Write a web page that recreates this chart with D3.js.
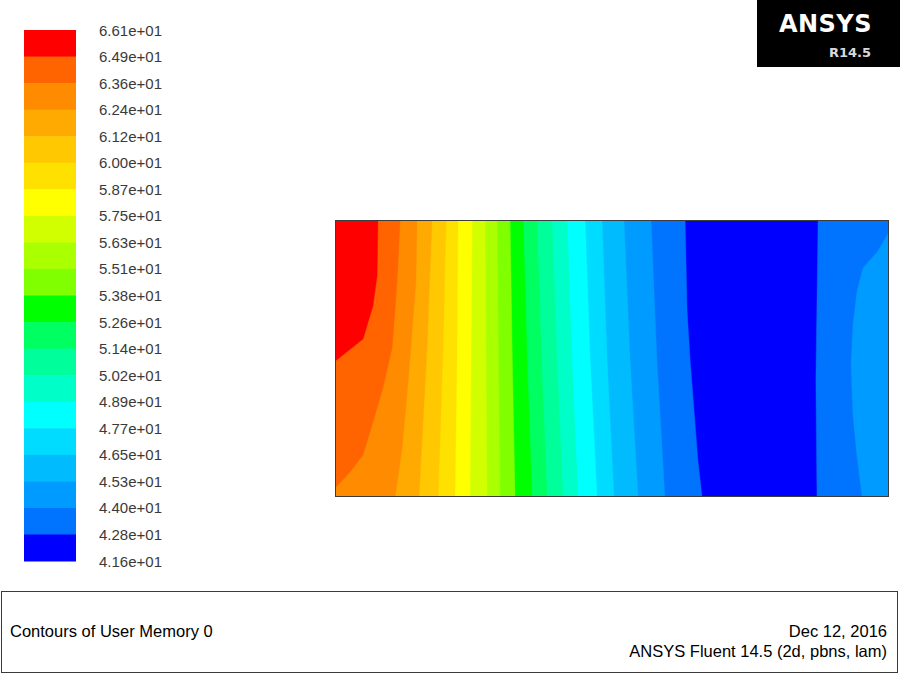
<!DOCTYPE html>
<html>
<head>
<meta charset="utf-8">
<script src="https://cdn.jsdelivr.net/npm/d3@7"></script>
<style>
  html, body { margin: 0; padding: 0; background: #fff; }
  svg { display: block; }
</style>
</head>
<body>
<script>
// ---------- data ----------
const levelLabels = ["6.61e+01","6.49e+01","6.36e+01","6.24e+01","6.12e+01","6.00e+01","5.87e+01",
  "5.75e+01","5.63e+01","5.51e+01","5.38e+01","5.26e+01","5.14e+01","5.02e+01","4.89e+01",
  "4.77e+01","4.65e+01","4.53e+01","4.40e+01","4.28e+01","4.16e+01"];
const levels = [66.1,64.9,63.6,62.4,61.2,60.0,58.7,57.5,56.3,55.1,53.8,52.6,51.4,50.2,48.9,
  47.7,46.5,45.3,44.0,42.8,41.6];
// colour of the band between levels[i] and levels[i+1]
const bandColors = ["#ff0000","#ff6400","#ff8c00","#ffaa00","#ffc800","#ffe100","#ffff00",
  "#d2ff00","#aaff00","#80ff00","#00ff00","#00ff60","#00ff9a","#00ffc8","#00ffff",
  "#00dcff","#00bcff","#009bff","#0073ff","#0000ff"];

// isolines of the field in domain units (x: 0..2, y: 0..1)
const isolines = [
  { level: 42.8, side: "left",  pts: [[1.264,1],[1.271,0.675],[1.282,0.495],[1.296,0.314],[1.310,0.134],[1.325,0]] },
  { level: 42.8, side: "right", pts: [[1.744,1],[1.740,0.711],[1.736,0.422],[1.740,0]] },
  { level: 44.0, side: "left",  pts: [[1.141,1],[1.162,0.5],[1.191,0]] },
  { level: 44.0, side: "right", pts: [[2.0,0.957],[1.957,0.884],[1.906,0.827],[1.884,0.740],[1.870,0.621],[1.863,0.477],[1.870,0.296],[1.884,0.152],[1.903,0]] },
  { level: 45.3, side: "left",  pts: [[1.043,1],[1.065,0.5],[1.094,0]] },
  { level: 46.5, side: "left",  pts: [[0.964,1],[0.982,0.5],[1.007,0]] },
  { level: 47.7, side: "left",  pts: [[0.903,1],[0.921,0.5],[0.946,0]] },
  { level: 48.9, side: "left",  pts: [[0.838,1],[0.855,0.5],[0.877,0]] },
  { level: 50.2, side: "left",  pts: [[0.783,1],[0.801,0.5],[0.823,0]] },
  { level: 51.4, side: "left",  pts: [[0.729,1],[0.745,0.5],[0.765,0]] },
  { level: 52.6, side: "left",  pts: [[0.679,1],[0.693,0.5],[0.711,0]] },
  { level: 53.8, side: "left",  pts: [[0.632,1],[0.640,0.5],[0.650,0]] },
  { level: 55.1, side: "left",  pts: [[0.585,1],[0.590,0.5],[0.596,0]] },
  { level: 56.3, side: "left",  pts: [[0.542,1],[0.545,0.5],[0.549,0]] },
  { level: 57.5, side: "left",  pts: [[0.495,1],[0.491,0.5],[0.487,0]] },
  { level: 58.7, side: "left",  pts: [[0.444,1],[0.440,0.5],[0.433,0]] },
  { level: 60.0, side: "left",  pts: [[0.401,1],[0.390,0.538],[0.372,0]] },
  { level: 61.2, side: "left",  pts: [[0.350,1],[0.332,0.538],[0.303,0]] },
  { level: 62.4, side: "left",  pts: [[0.296,1],[0.292,0.776],[0.264,0.415],[0.242,0.177],[0.217,0]] },
  { level: 63.6, side: "left",  pts: [[0.235,1],[0.224,0.776],[0.206,0.538],[0.173,0.394],[0.137,0.271],[0.101,0.152],[0.054,0.090],[0,0.032]] },
  { level: 64.9, side: "left",  pts: [[0.155,1],[0.152,0.80],[0.137,0.69],[0.101,0.57],[0,0.49]] }
];

const titleText = "Contours of User Memory 0";
const dateText = "Dec 12, 2016";
const versionText = "ANSYS Fluent 14.5 (2d, pbns, lam)";

// ---------- drawing ----------
const W = 900, H = 675;
const svg = d3.select("body").append("svg").attr("width", W).attr("height", H);
svg.append("rect").attr("width", W).attr("height", H).attr("fill", "#fff");

const font = "'Liberation Sans', Arial, Helvetica, sans-serif";

// legend
const ly = d3.scalePoint().domain(levelLabels).range([30, 561]);
const legend = svg.append("g");
legend.selectAll("rect.band").data(bandColors).join("rect")
  .attr("class", "band")
  .attr("x", 24).attr("width", 52)
  .attr("y", (d, i) => ly(levelLabels[i]))
  .attr("height", (d, i) => ly(levelLabels[i + 1]) - ly(levelLabels[i]) + 0.5)
  .attr("fill", d => d);
legend.selectAll("text").data(levelLabels).join("text")
  .attr("x", 99).attr("y", d => ly(d) + 5.5)
  .attr("font-family", font).attr("font-size", 15)
  .attr("fill", "#3a3a3a")
  .text(d => d);

// contour plot
const x = d3.scaleLinear().domain([0, 2]).range([335, 889]);
const y = d3.scaleLinear().domain([0, 1]).range([497, 220]);
const colorOf = d3.scaleOrdinal().domain(levels.slice(0, 20)).range(bandColors);
// band colour above a given level = colour of band whose lower bound is that level
const colorAbove = lv => bandColors[levels.indexOf(lv) - 1];

const clip = svg.append("clipPath").attr("id", "plotclip");
clip.append("rect").attr("x", x(0)).attr("y", y(1)).attr("width", x(2) - x(0)).attr("height", y(0) - y(1));

const plot = svg.append("g").attr("clip-path", "url(#plotclip)");
plot.append("rect").attr("x", x(0)).attr("y", y(1)).attr("width", x(2) - x(0)).attr("height", y(0) - y(1))
  .attr("fill", bandColors[bandColors.length - 1]);

const line = d3.line().x(d => x(d[0])).y(d => y(d[1])).curve(d3.curveLinear);
const sorted = isolines.slice().sort((a, b) => a.level - b.level);
plot.selectAll("path").data(sorted).join("path")
  .attr("d", d => {
    const edge = d.side === "left" ? 0 : 2;
    const first = d.pts[0], last = d.pts[d.pts.length - 1];
    return line([[edge, first[1]], ...d.pts, [edge, last[1]]]) + "Z";
  })
  .attr("fill", d => colorAbove(d.level))
  .attr("stroke", d => colorAbove(d.level))
  .attr("stroke-width", 0.4);

svg.append("rect").attr("x", x(0) + 0.5).attr("y", y(1) + 0.5)
  .attr("width", x(2) - x(0) - 1).attr("height", y(0) - y(1) - 1)
  .attr("fill", "none").attr("stroke", "#3c3c3c").attr("stroke-width", 1);

// ANSYS logo
svg.append("rect").attr("x", 757).attr("y", 0).attr("width", 143).attr("height", 67).attr("fill", "#000");
svg.append("text").attr("x", 872).attr("y", 32).attr("text-anchor", "end")
  .attr("font-family", "'DejaVu Sans', " + font).attr("font-weight", "bold").attr("font-size", 24)
  .attr("fill", "#fff").attr("letter-spacing", 0.5).text("ANSYS");
svg.append("text").attr("x", 871).attr("y", 57).attr("text-anchor", "end")
  .attr("font-family", "'DejaVu Sans', " + font).attr("font-weight", "bold").attr("font-size", 13)
  .attr("fill", "#d8d8d8").text("R14.5");

// bottom info box
svg.append("rect").attr("x", 1.5).attr("y", 591.5).attr("width", 896).attr("height", 81)
  .attr("fill", "none").attr("stroke", "#3a3a3a").attr("stroke-width", 1);
svg.append("text").attr("x", 10).attr("y", 637).attr("font-family", font).attr("font-size", 16.5)
  .attr("fill", "#000").text(titleText);
svg.append("text").attr("x", 887).attr("y", 637).attr("text-anchor", "end").attr("font-family", font)
  .attr("font-size", 16.5).attr("fill", "#000").text(dateText);
svg.append("text").attr("x", 887).attr("y", 657).attr("text-anchor", "end").attr("font-family", font)
  .attr("font-size", 16.5).attr("fill", "#000").text(versionText);
</script>
</body>
</html>
